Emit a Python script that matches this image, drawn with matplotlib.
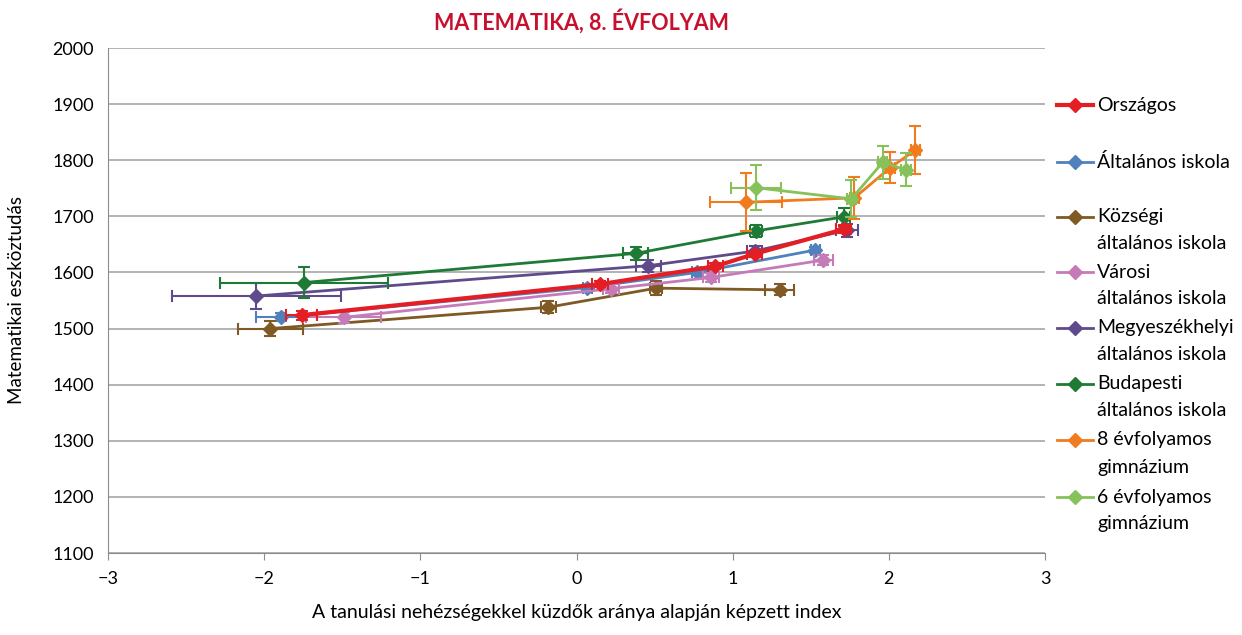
import matplotlib.pyplot as plt
from matplotlib.lines import Line2D
import numpy as np

plt.rcParams['font.family'] = ['Lato', 'DejaVu Sans']

labels = ['Országos', 'Általános iskola', 'Községi\náltalános iskola', 'Városi\náltalános iskola',
          'Megyeszékhelyi\náltalános iskola', 'Budapesti\náltalános iskola',
          '8 évfolyamos\ngimnázium', '6 évfolyamos\ngimnázium']
colors = ['#e31e24', '#4f81bd', '#7f5a24', '#c47bb8', '#5f4b8b', '#1f7a35', '#f07c1f', '#86c15a']

x_orszagos = [-1.76, 0.15, 0.89, 1.14, 1.71]
y_orszagos = [1524, 1579, 1611, 1633, 1677]
xe_orszagos = [0.10, 0.05, 0.05, 0.05, 0.05]
ye_orszagos = [8, 5, 5, 5, 7]

x_altalanos = [-1.89, 0.07, 0.77, 1.53]
y_altalanos = [1520, 1573, 1600, 1640]
xe_altalanos = [0.16, 0.03, 0.03, 0.03]
ye_altalanos = [7, 4, 4, 5]

x_kozsegi = [-1.96, -0.18, 0.51, 1.30]
y_kozsegi = [1500, 1538, 1572, 1569]
xe_kozsegi = [0.21, 0.05, 0.04, 0.09]
ye_kozsegi = [13, 11, 12, 10]

x_varosi = [-1.49, 0.22, 0.86, 1.58]
y_varosi = [1520, 1571, 1591, 1622]
xe_varosi = [0.24, 0.05, 0.05, 0.06]
ye_varosi = [10, 8, 8, 9]

x_megye = [-2.05, 0.46, 1.14, 1.73]
y_megye = [1558, 1612, 1638, 1675]
xe_megye = [0.54, 0.08, 0.05, 0.07]
ye_megye = [23, 11, 10, 11]

x_budapest = [-1.745, 0.38, 1.15, 1.71]
y_budapest = [1582, 1634, 1674, 1699]
xe_budapest = [0.54, 0.08, 0.04, 0.04]
ye_budapest = [27, 11, 11, 16]

x_gimn8 = [1.085, 1.78, 2.01, 2.17]
y_gimn8 = [1725, 1733, 1787, 1818]
xe_gimn8 = [0.23, 0.03, 0.03, 0.03]
ye_gimn8 = [52, 37, 27, 43]

x_gimn6 = [1.15, 1.76, 1.96, 2.11]
y_gimn6 = [1751, 1731, 1796, 1783]
xe_gimn6 = [0.16, 0.03, 0.03, 0.03]
ye_gimn6 = [40, 33, 29, 29]

series = [(x_orszagos, y_orszagos, xe_orszagos, ye_orszagos),
          (x_altalanos, y_altalanos, xe_altalanos, ye_altalanos),
          (x_kozsegi, y_kozsegi, xe_kozsegi, ye_kozsegi),
          (x_varosi, y_varosi, xe_varosi, ye_varosi),
          (x_megye, y_megye, xe_megye, ye_megye),
          (x_budapest, y_budapest, xe_budapest, ye_budapest),
          (x_gimn8, y_gimn8, xe_gimn8, ye_gimn8),
          (x_gimn6, y_gimn6, xe_gimn6, ye_gimn6)]

fig = plt.figure(figsize=(12.42, 6.35), dpi=100)
ax = fig.add_axes([108 / 1242, 1 - 553 / 635, (1045 - 108) / 1242, (553 - 48) / 635])

for i, (xs, ys, xe, ye) in enumerate(series):
    lw = 3 if i == 0 else 2
    z = 10 if i == 0 else 3 + i
    ax.errorbar(xs, ys, xerr=xe, yerr=ye, color=colors[i], lw=lw, marker='D', ms=7,
                elinewidth=1.5, capsize=4, capthick=1.5, zorder=z)

ax.set_xlim(-3, 3)
ax.set_ylim(1100, 2000)
ax.set_xticks(np.arange(-3, 4, 1))
ax.set_xticklabels(['\u22123', '\u22122', '\u22121', '0', '1', '2', '3'])
ax.set_yticks(np.arange(1100, 2001, 100))
ax.grid(axis='y', color='#a6a6a6', lw=1.2)
ax.set_axisbelow(True)
for s in ['top', 'right']:
    ax.spines[s].set_visible(False)
ax.spines['left'].set_color('#8c8c8c')
ax.spines['bottom'].set_color('#8c8c8c')
ax.tick_params(axis='x', length=5, color='#8c8c8c', labelsize=13, pad=8)
ax.tick_params(axis='y', length=0, labelsize=13, pad=10)
ax.set_xlabel('A tanulási nehézségekkel küzdők aránya alapján képzett index', fontsize=14, labelpad=12)
ax.set_ylabel('Matematikai eszköztudás', fontsize=13.5, labelpad=20)

fig.text(582 / 1242, 1 - 21 / 635, 'MATEMATIKA, 8. ÉVFOLYAM', color='#c8102e', fontsize=15.5,
         fontweight='bold', ha='center', va='center')

# legend drawn by hand so two-line labels keep the marker on the first line
leg_y = [105, 162, 217, 272, 328, 384, 440, 497]
for i, lab in enumerate(labels):
    yy = 1 - leg_y[i] / 635
    lw = 3 if i == 0 else 2
    fig.add_artist(Line2D([1057 / 1242, 1093 / 1242], [yy, yy], color=colors[i], lw=lw,
                          transform=fig.transFigure))
    fig.add_artist(Line2D([1075 / 1242], [yy], color=colors[i], marker='D', ms=7,
                          transform=fig.transFigure))
    for k, part in enumerate(lab.split('\n')):
        fig.text(1097 / 1242, yy - k * 27 / 635, part, fontsize=14, va='center', ha='left')

plt.savefig('out.png', dpi=100)
